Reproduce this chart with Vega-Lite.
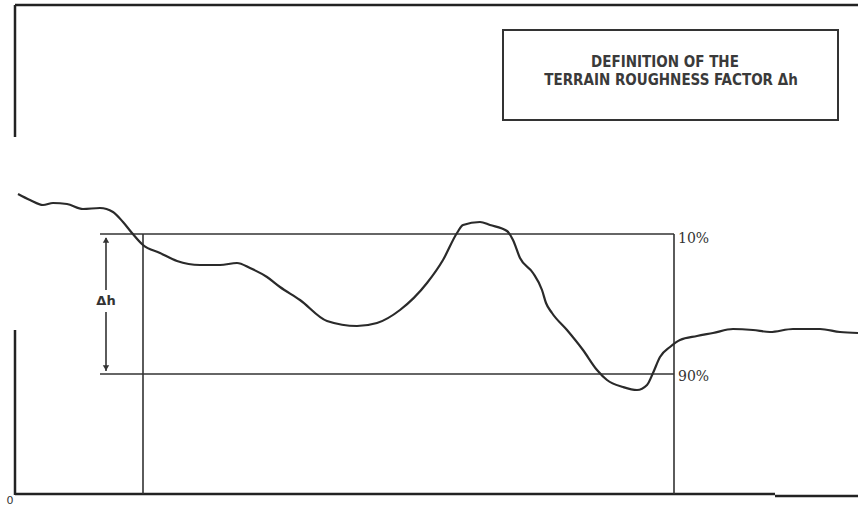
{
  "$schema": "https://vega.github.io/schema/vega-lite/v6.json",
  "width": 858,
  "height": 508,
  "autosize": {"type": "none"},
  "padding": 0,
  "background": "white",
  "config": {"view": {"stroke": null}},
  "datasets": {
    "frame": [
      {"x": 15, "y": 5, "x2": 858, "y2": 5},
      {"x": 15, "y": 5, "x2": 15, "y2": 137},
      {"x": 15, "y": 330, "x2": 15, "y2": 495},
      {"x": 15, "y": 494, "x2": 775, "y2": 494},
      {"x": 775, "y": 496, "x2": 858, "y2": 496}
    ],
    "box": [
      {"x": 143, "y": 234, "x2": 143, "y2": 494},
      {"x": 674, "y": 234, "x2": 674, "y2": 494},
      {"x": 100, "y": 234, "x2": 674, "y2": 234},
      {"x": 100, "y": 374, "x2": 674, "y2": 374},
      {"x": 106, "y": 238, "x2": 106, "y2": 290},
      {"x": 106, "y": 312, "x2": 106, "y2": 371}
    ],
    "arrows": [
      {"x": 106, "y": 240, "dir": "up"},
      {"x": 106, "y": 368, "dir": "down"}
    ],
    "legend": [{"x": 503, "y": 30, "x2": 838, "y2": 120}],
    "terrain": [
      {"x": 18, "y": 194}, {"x": 30, "y": 200}, {"x": 43, "y": 205}, {"x": 53, "y": 203},
      {"x": 67, "y": 204}, {"x": 83, "y": 209}, {"x": 100, "y": 208}, {"x": 113, "y": 212},
      {"x": 123, "y": 222}, {"x": 132, "y": 233}, {"x": 143, "y": 245}, {"x": 160, "y": 253},
      {"x": 177, "y": 261}, {"x": 200, "y": 265}, {"x": 220, "y": 265}, {"x": 237, "y": 263},
      {"x": 250, "y": 268}, {"x": 267, "y": 277}, {"x": 280, "y": 287}, {"x": 300, "y": 300},
      {"x": 327, "y": 321}, {"x": 357, "y": 326}, {"x": 377, "y": 323}, {"x": 400, "y": 310},
      {"x": 427, "y": 283}, {"x": 443, "y": 260}, {"x": 457, "y": 233}, {"x": 463, "y": 225},
      {"x": 480, "y": 222}, {"x": 490, "y": 225}, {"x": 507, "y": 231}, {"x": 513, "y": 240},
      {"x": 520, "y": 258}, {"x": 533, "y": 273}, {"x": 542, "y": 290}, {"x": 546, "y": 303},
      {"x": 552, "y": 313}, {"x": 567, "y": 330}, {"x": 583, "y": 350}, {"x": 597, "y": 370},
      {"x": 607, "y": 380}, {"x": 623, "y": 387}, {"x": 637, "y": 390}, {"x": 647, "y": 385},
      {"x": 653, "y": 373}, {"x": 660, "y": 357}, {"x": 670, "y": 347}, {"x": 680, "y": 340},
      {"x": 697, "y": 336}, {"x": 713, "y": 333}, {"x": 733, "y": 329}, {"x": 753, "y": 330},
      {"x": 770, "y": 332}, {"x": 793, "y": 329}, {"x": 820, "y": 329}, {"x": 840, "y": 332},
      {"x": 858, "y": 333}
    ],
    "labels": [
      {"x": 678, "y": 239, "t": "10%"},
      {"x": 678, "y": 377, "t": "90%"}
    ],
    "legendText": [
      {"x": 665, "y": 62, "t": "DEFINITION OF THE"},
      {"x": 671, "y": 80, "t": "TERRAIN ROUGHNESS FACTOR Δh"}
    ],
    "dh": [{"x": 106, "y": 301, "t": "Δh"}],
    "zero": [{"x": 10, "y": 501, "t": "0"}]
  },
  "layer": [
    {
      "data": {"name": "frame"},
      "mark": {"type": "rule", "color": "#222", "strokeWidth": 2.5},
      "encoding": {
        "x": {"field": "x", "type": "quantitative", "scale": {"domain": [0, 858], "nice": false, "zero": false}, "axis": null},
        "x2": {"field": "x2"},
        "y": {"field": "y", "type": "quantitative", "scale": {"domain": [508, 0], "nice": false, "zero": false}, "axis": null},
        "y2": {"field": "y2"}
      }
    },
    {
      "data": {"name": "box"},
      "mark": {"type": "rule", "color": "#333", "strokeWidth": 1.6},
      "encoding": {
        "x": {"field": "x", "type": "quantitative"},
        "x2": {"field": "x2"},
        "y": {"field": "y", "type": "quantitative"},
        "y2": {"field": "y2"}
      }
    },
    {
      "data": {"name": "arrows"},
      "mark": {"type": "point", "filled": true, "color": "#333", "size": 40, "opacity": 1},
      "encoding": {
        "x": {"field": "x", "type": "quantitative"},
        "y": {"field": "y", "type": "quantitative"},
        "shape": {"field": "dir", "type": "nominal", "scale": {"domain": ["up", "down"], "range": ["triangle-up", "triangle-down"]}, "legend": null}
      }
    },
    {
      "data": {"name": "legend"},
      "mark": {"type": "rect", "fill": null, "stroke": "#333", "strokeWidth": 2},
      "encoding": {
        "x": {"field": "x", "type": "quantitative"},
        "x2": {"field": "x2"},
        "y": {"field": "y", "type": "quantitative"},
        "y2": {"field": "y2"}
      }
    },
    {
      "data": {"name": "terrain"},
      "mark": {"type": "line", "color": "#2a2a2a", "strokeWidth": 2.2, "interpolate": "monotone"},
      "encoding": {
        "x": {"field": "x", "type": "quantitative"},
        "y": {"field": "y", "type": "quantitative"}
      }
    },
    {
      "data": {"name": "labels"},
      "mark": {"type": "text", "align": "left", "baseline": "middle", "fontSize": 14, "font": "DejaVu Serif", "color": "#333"},
      "encoding": {
        "x": {"field": "x", "type": "quantitative"},
        "y": {"field": "y", "type": "quantitative"},
        "text": {"field": "t"}
      }
    },
    {
      "data": {"name": "legendText"},
      "mark": {"type": "text", "align": "center", "baseline": "middle", "fontSize": 15, "fontWeight": "bold", "font": "DejaVu Sans Condensed", "color": "#3a3a3a"},
      "encoding": {
        "x": {"field": "x", "type": "quantitative"},
        "y": {"field": "y", "type": "quantitative"},
        "text": {"field": "t"}
      }
    },
    {
      "data": {"name": "dh"},
      "mark": {"type": "text", "align": "center", "baseline": "middle", "fontSize": 13, "fontWeight": "bold", "font": "DejaVu Sans", "color": "#333"},
      "encoding": {
        "x": {"field": "x", "type": "quantitative"},
        "y": {"field": "y", "type": "quantitative"},
        "text": {"field": "t"}
      }
    },
    {
      "data": {"name": "zero"},
      "mark": {"type": "text", "align": "center", "baseline": "middle", "fontSize": 11, "font": "DejaVu Sans", "color": "#333"},
      "encoding": {
        "x": {"field": "x", "type": "quantitative"},
        "y": {"field": "y", "type": "quantitative"},
        "text": {"field": "t"}
      }
    }
  ]
}
